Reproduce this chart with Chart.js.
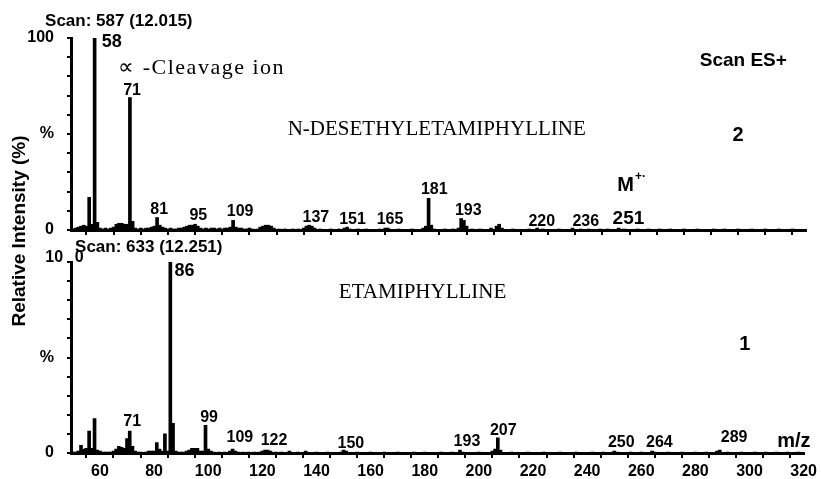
<!DOCTYPE html>
<html><head><meta charset="utf-8">
<script src="https://cdn.jsdelivr.net/npm/chart.js@4"></script>
<style>
html,body{margin:0;padding:0;background:#fff;}
#wrap{position:relative;width:821px;height:479px;overflow:hidden;}
canvas{position:absolute;left:0;top:0;}
</style>
</head><body>
<div id="wrap"><canvas id="c1" width="821" height="479"></canvas><canvas id="c2" width="821" height="479"></canvas></div>
<script>
// ---- Spectrum 2 (top): N-DESETHYLETAMIPHYLLINE ----
const mzTop = [50,51,52,53,54,55,56,57,58,59,60,61,62,63,64,65,66,67,68,69,70,71,72,73,74,75,76,77,78,79,80,81,82,83,84,85,86,87,88,89,90,91,92,93,94,95,96,97,98,99,100,101,102,103,104,105,106,107,108,109,110,111,112,113,114,115,116,118,119,120,121,122,123,124,126,128,131,133,135,136,137,138,139,141,145,148,150,151,152,155,158,163,165,166,170,175,179,180,181,182,183,187,190,192,193,194,195,197,200,204,206,207,208,212,218,221,223,229,234,237,240,244,247,251,253,258,262,266,270,275,280,286,290,295,300,305,310,315];
const intTop = [0.5,1,1.5,2,2.5,2,17,3,100,4,1,0.5,1,0.5,1,1.5,3,3.5,3.5,3,3,69,4.5,1,0.5,1,0.5,1,1,1.5,2,6.5,2.5,1.5,1,0.5,1,0.5,0.5,1,1,1.5,2,2.5,2.5,3,2,1,0.5,1,0.5,1,1,0.5,1,0.5,1,1,1.5,5,1.5,1,1,0.5,0.5,1,0.5,0.5,1.5,2,2.5,2.5,2,1,0.5,0.5,0.5,0.5,1,2,2.5,2,1,0.5,0.5,0.5,1,1.5,0.5,0.5,0.5,0.5,1,1,0.5,0.5,1,2,16.5,2.5,0.5,0.5,0.5,1,6,5,2,0.5,0.5,1,2,3,1,0.5,0.5,1,0.5,0.5,1,0.5,0.5,0.5,0.5,1,0.5,0.5,0.5,0.5,0.5,0.5,0.5,0.5,0.5,0.5,0.5,0.5,0.5,0.5];

// ---- Spectrum 1 (bottom): ETAMIPHYLLINE ----
const mzBottom = [50,51,52,53,54,55,56,57,58,59,60,61,62,63,64,65,66,67,68,69,70,71,72,73,74,75,77,78,79,80,81,82,83,84,85,86,87,88,89,90,91,92,93,94,95,96,97,98,99,100,101,102,104,106,108,109,110,111,113,115,117,119,120,121,122,123,125,127,130,133,136,140,144,149,150,151,155,160,165,170,176,180,186,190,193,194,200,205,206,207,208,212,218,224,230,236,242,246,250,251,256,260,264,265,270,275,280,284,288,289,292,297,302,306,310,314,318];
const intBottom = [0.5,0.5,1,4,2,2.5,11.5,2.5,18,1.5,1,0.5,0.5,0.5,0.5,1,2,3.5,3,2.5,7.5,11.5,3.5,1,0.5,0.5,0.5,1,1,1,5.5,2,1,10,1,100,15.5,1,0.5,0.5,0.5,1,1.5,2.5,2.5,2.5,1,1,14.5,2,1,0.5,0.5,0.5,1,2,1,0.5,0.5,0.5,0.5,0.5,1,1.5,1.5,1,0.5,0.5,1,0.5,1,0.5,0.5,0.5,1.5,1,0.5,0.5,0.5,0.5,0.5,0.5,0.5,0.5,1.5,0.5,0.5,1,2,8,1.5,0.5,0.5,0.5,0.5,0.5,0.5,0.5,1,0.5,0.5,0.5,1,0.5,0.5,0.5,0.5,0.5,1,1.5,0.5,0.5,0.5,0.5,0.5,0.5,0.5];

// ---- axis ticks ----
const xTickValues = [50,60,70,80,90,100,110,120,130,140,150,160,170,180,190,200,210,220,230,240,250,260,270,280,290,300,310,320];
const xTickLabels = ['','60','','80','','100','','120','','140','','160','','180','','200','','220','','240','','260','','280','','300','','320'];
const yTickValues = [0,10,20,30,40,50,60,70,80,90,100];
const yTickLabelsTop = ['0','','','','','%','','','','','100'];
const yTickLabelsBottom = ['0','','','','','%','','','','',''];

// ---- text annotations: [text, m/z, %, font, align] ----
const SANS = '"Liberation Sans", Arial, sans-serif';
const SERIF = '"Liberation Serif", "Times New Roman", serif';
const topTexts = [
  ['Scan: 587 (12.015)', 39.75, 108.5, 'bold 17px ' + SANS, 'left'],
  ['58', 64.3, 98.1, 'bold 18px ' + SANS, 'center'],
  ['\u221D -Cleavage ion', 66.7, 84.4, '22px ' + SERIF, 'left', 1.5],
  ['71', 71.8, 72.8, 'bold 16px ' + SANS, 'center'],
  ['N-DESETHYLETAMIPHYLLINE', 184.0, 52.6, '21px ' + SERIF, 'center'],
  ['Scan ES+', 296.9, 88.0, 'bold 19px ' + SANS, 'center'],
  ['2', 295.0, 49.2, 'bold 20px ' + SANS, 'center'],
  ['81', 81.8, 10.4, 'bold 16px ' + SANS, 'center'],
  ['95', 96.2, 7.3, 'bold 16px ' + SANS, 'center'],
  ['109', 111.6, 9.5, 'bold 16px ' + SANS, 'center'],
  ['137', 139.5, 6.25, 'bold 16px ' + SANS, 'center'],
  ['151', 153.0, 5.2, 'bold 16px ' + SANS, 'center'],
  ['165', 166.8, 5.2, 'bold 16px ' + SANS, 'center'],
  ['181', 183.1, 20.8, 'bold 16px ' + SANS, 'center'],
  ['193', 195.6, 10.05, 'bold 16px ' + SANS, 'center'],
  ['220', 222.7, 4.3, 'bold 16px ' + SANS, 'center'],
  ['236', 238.9, 4.3, 'bold 16px ' + SANS, 'center'],
  ['251', 254.6, 6.1, 'bold 19px ' + SANS, 'center'],
  ['M', 250.5, 23.4, 'bold 20px ' + SANS, 'left'],
  ['+\u00B7', 257.0, 27.8, 'bold 12px ' + SANS, 'left']
];
const bottomTexts = [
  ['Scan: 633 (12.251)', 50.8, 107.9, 'bold 17px ' + SANS, 'left'],
  ['10', 46.4, 102.1, 'bold 16px ' + SANS, 'right'],
  ['0', 52.3, 102.1, 'bold 16px ' + SANS, 'center'],
  ['86', 91.2, 95.3, 'bold 18px ' + SANS, 'center'],
  ['ETAMIPHYLLINE', 179.2, 83.8, '21px ' + SERIF, 'center'],
  ['1', 298.3, 56.7, 'bold 20px ' + SANS, 'center'],
  ['71', 71.9, 16.2, 'bold 16px ' + SANS, 'center'],
  ['99', 100.3, 18.6, 'bold 16px ' + SANS, 'center'],
  ['109', 111.7, 8.0, 'bold 16px ' + SANS, 'center'],
  ['122', 124.3, 6.3, 'bold 16px ' + SANS, 'center'],
  ['150', 152.7, 5.1, 'bold 16px ' + SANS, 'center'],
  ['193', 195.6, 5.8, 'bold 16px ' + SANS, 'center'],
  ['207', 209.0, 11.5, 'bold 16px ' + SANS, 'center'],
  ['250', 252.6, 5.2, 'bold 16px ' + SANS, 'center'],
  ['264', 266.7, 5.2, 'bold 16px ' + SANS, 'center'],
  ['289', 294.3, 8.1, 'bold 16px ' + SANS, 'center'],
  ['m/z', 316.4, 5.8, 'bold 20px ' + SANS, 'center']
];
const yAxisTitle = 'Relative Intensity (%)';

const textPlugin = {
  id: 'texts',
  afterDraw(chart, args, opts) {
    const ctx = chart.ctx, xs = chart.scales.x, ys = chart.scales.y;
    ctx.save();
    ctx.fillStyle = '#000';
    ctx.textBaseline = 'middle';
    (opts.items || []).forEach(([t, mz, p, f, a, ls]) => {
      ctx.font = f; ctx.textAlign = a;
      ctx.letterSpacing = (ls || 0) + 'px';
      ctx.fillText(t, xs.getPixelForValue(mz), ys.getPixelForValue(p));
    });
    ctx.letterSpacing = '0px';
    if (opts.title) {
      ctx.translate(20, 231);
      ctx.rotate(-Math.PI / 2);
      ctx.font = 'bold 19px ' + SANS;
      ctx.textAlign = 'center';
      ctx.fillText(opts.title, 0, 0);
    }
    ctx.restore();
  }
};

function makeChart(id, mz, vals, yLabels, showX, padding, xHeight, texts, title) {
  return new Chart(document.getElementById(id), {
    type: 'bar',
    data: {
      datasets: [{
        data: mz.map((m, i) => ({x: m, y: vals[i]})),
        backgroundColor: '#000',
        borderWidth: 0,
        barThickness: 3,
        grouped: false
      }]
    },
    options: {
      responsive: false,
      animation: false,
      devicePixelRatio: 1,
      layout: {padding: padding},
      plugins: {legend: {display: false}, tooltip: {enabled: false}, texts: {items: texts, title: title}},
      scales: {
        x: {
          type: 'linear', min: 49.3, max: 320, offset: false,
          afterBuildTicks: s => { s.ticks = xTickValues.map(v => ({value: v})); },
          ticks: {
            autoSkip: false, maxRotation: 0, padding: 4, color: '#000',
            font: {family: SANS, size: 16, weight: 'bold'},
            callback: (v, i) => showX ? xTickLabels[i] : ''
          },
          grid: {drawOnChartArea: false, drawTicks: true, tickLength: 5, color: '#000', lineWidth: 2},
          border: {display: true, color: '#000', width: 3},
          afterFit: s => { s.height = xHeight; }
        },
        y: {
          min: 0, max: 100,
          afterBuildTicks: s => { s.ticks = yTickValues.map(v => ({value: v})); },
          ticks: {
            autoSkip: false, padding: 13, color: '#000',
            font: {family: SANS, size: 16, weight: 'bold'},
            callback: (v, i) => yLabels[i]
          },
          grid: {drawOnChartArea: false, drawTicks: true, tickLength: 4, color: '#000', lineWidth: 2},
          border: {display: true, color: '#000', width: 3},
          afterFit: s => { s.width = 71; }
        }
      }
    },
    plugins: [textPlugin]
  });
}

makeChart('c1', mzTop, intTop, yTickLabelsTop, false, {top: 38, right: 15, bottom: 239, left: 0}, 10, topTexts, null);
makeChart('c2', mzBottom, intBottom, yTickLabelsBottom, true, {top: 262, right: 15, bottom: 0, left: 0}, 26, bottomTexts, yAxisTitle);
</script>
</body></html>
